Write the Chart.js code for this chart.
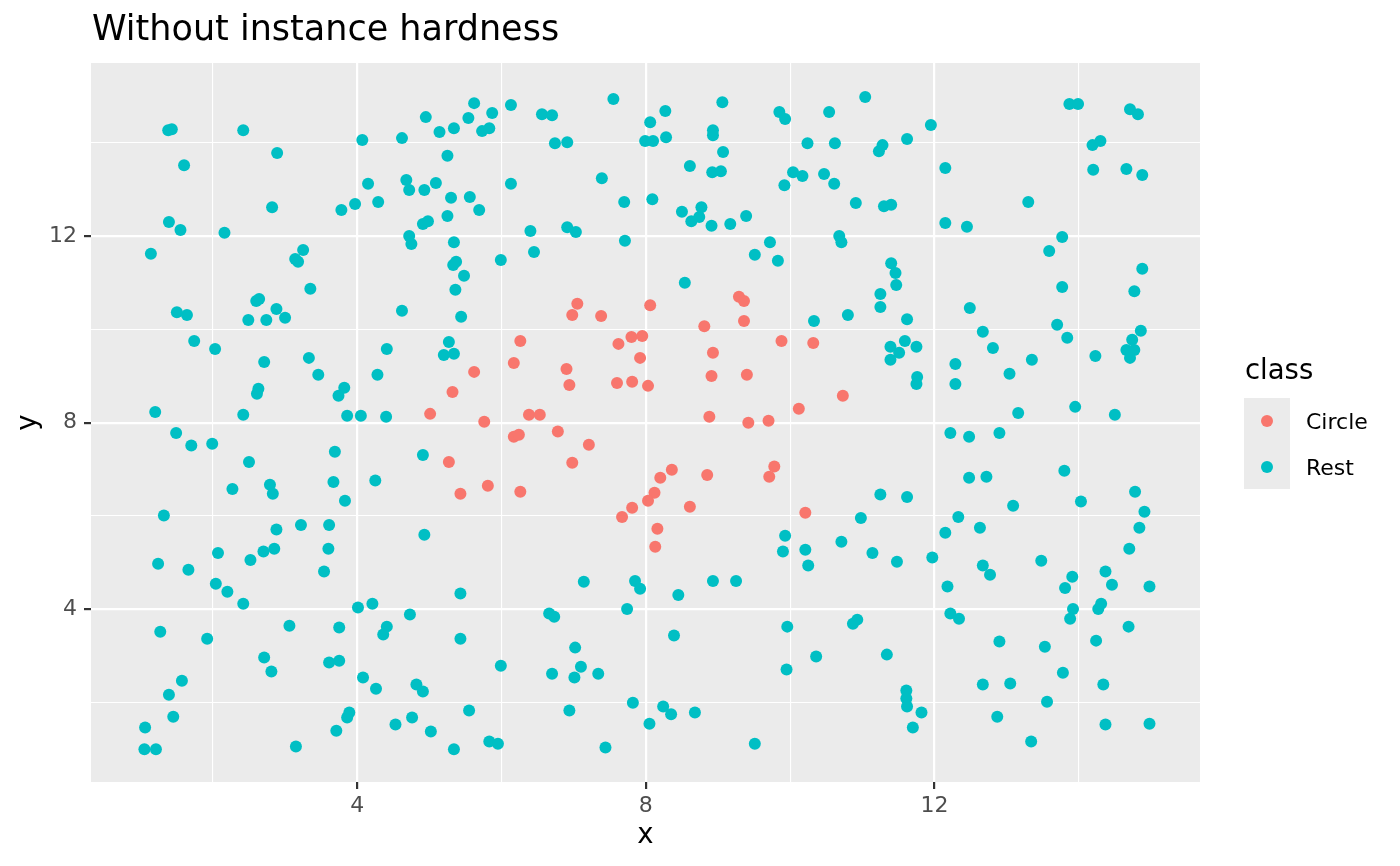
<!DOCTYPE html>
<html>
<head>
<meta charset="utf-8">
<title>Without instance hardness</title>
<script src="https://cdn.jsdelivr.net/npm/chart.js@4.4.1/dist/chart.umd.min.js"></script>
<style>
  html, body { margin: 0; padding: 0; background: #ffffff; }
  #wrap { width: 1400px; height: 866px; position: relative; }
</style>
</head>
<body>
<div id="wrap"><canvas id="scatterChart"></canvas></div>
<script>
// classes and their ggplot default hues
const classes = ["Circle", "Rest"];
const classColors = ["#F8766D", "#00BFC4"];

// points inside the circle
const circleX = [5.32, 5.01, 7.05, 6.98, 7.38, 8.06, 9.29, 9.36, 9.36, 8.81,
  6.26, 7.62, 7.80, 7.95, 7.92, 6.17, 5.62, 6.90, 6.94, 7.60,
  7.81, 8.03, 8.93, 8.91, 9.40, 9.88, 10.32, 10.12, 5.76, 6.38,
  6.53, 8.88, 9.42, 9.70, 10.73, 5.27, 5.43, 6.17, 6.24, 6.78,
  7.21, 6.98, 5.81, 6.26, 8.36, 8.20, 8.12, 8.03, 7.81, 7.67,
  8.85, 8.61, 9.78, 9.71, 10.21, 8.16, 8.13];
const circleY = [8.66, 8.19, 10.55, 10.31, 10.29, 10.52, 10.70, 10.61, 10.18, 10.07,
  9.75, 9.69, 9.84, 9.86, 9.39, 9.28, 9.09, 9.15, 8.81, 8.85,
  8.88, 8.79, 9.50, 9.00, 9.03, 9.75, 9.71, 8.30, 8.02, 8.17,
  8.17, 8.13, 8.00, 8.04, 8.58, 7.16, 6.48, 7.70, 7.74, 7.81,
  7.53, 7.14, 6.65, 6.52, 6.99, 6.82, 6.50, 6.33, 6.18, 5.98,
  6.88, 6.20, 7.06, 6.84, 6.07, 5.73, 5.34];

// all the other points
const restX = [
  1.38, 1.43, 2.42, 1.60, 2.89, 4.07, 4.62, 4.95, 5.14, 5.34,
  5.25, 4.15, 4.68, 4.72, 4.93, 5.09, 5.30, 2.82, 3.78, 3.97,
  4.29, 1.39, 1.55, 2.16, 4.91, 4.98, 5.25, 4.72, 4.75, 5.34,
  1.14, 3.25, 3.14, 3.18, 5.33, 5.37, 5.48, 3.35, 5.36, 2.60,
  2.64, 2.88, 1.50, 1.64, 2.49, 2.74, 3.00, 4.62, 5.44, 1.74,
  2.03, 2.71, 3.33, 3.46, 4.41, 4.28, 5.27, 5.20, 5.34, 2.63,
  2.61, 3.82, 3.74, 1.20, 2.42, 3.86, 4.05, 4.40,
  5.62, 5.54, 5.73, 5.83, 5.87, 6.13, 6.56, 6.70, 7.55, 6.74,
  6.91, 8.06, 8.27, 7.99, 8.10, 8.28, 9.06, 8.93, 8.93, 9.85,
  9.93, 10.54, 9.07, 8.61, 8.92, 9.04, 10.24, 10.62, 10.04, 10.17,
  10.47, 10.61, 9.92, 6.13, 7.39, 5.56, 5.69, 7.70, 8.09, 8.50,
  8.63, 8.74, 8.77, 8.91, 9.17, 9.39, 6.40, 6.91, 7.03, 7.71,
  6.45, 5.99, 9.72, 9.51, 9.83, 8.54, 10.33,
  11.04, 11.23, 11.28, 11.62, 11.95, 13.87, 13.99, 14.71, 14.82, 14.19,
  14.30, 12.15, 14.20, 14.66, 14.88, 10.91, 11.30, 11.40, 12.15, 12.45,
  13.30, 10.68, 10.71, 13.77, 13.59, 11.40, 11.46, 11.47, 14.88, 13.77,
  14.77, 11.25, 11.25, 10.80, 11.62, 12.49, 12.67, 12.81, 13.70, 13.84,
  14.86, 14.74, 14.66, 14.77, 14.71, 14.23, 11.39, 11.51, 11.59, 11.75,
  11.39, 12.29, 13.04, 13.35, 11.76, 11.75, 12.29, 13.16, 13.95, 14.50,
  1.49, 1.70, 1.99, 2.50, 2.27, 2.79, 2.83, 3.69, 3.67, 3.83,
  4.25, 4.91, 1.32, 2.88, 3.22, 3.61, 4.93, 1.24, 1.66, 2.07,
  2.52, 2.70, 2.85, 3.60, 3.54, 2.04, 2.20, 2.42, 4.01, 4.21,
  4.73, 5.43, 1.27, 1.92, 3.06, 3.75, 4.41, 4.36, 5.43, 2.71,
  2.81, 3.61, 3.75, 4.08, 4.26, 4.82, 4.91, 1.57, 1.39, 1.45,
  1.06, 1.05, 1.21, 3.15, 3.71, 3.89, 3.86, 4.53, 4.76, 5.02,
  5.34,
  9.93, 9.90, 10.21, 10.25, 7.14, 7.85, 7.92, 8.45, 8.93, 9.25,
  7.74, 6.66, 6.73, 8.39, 9.96, 10.36, 9.95, 7.02, 5.99, 7.10,
  6.70, 7.01, 7.34, 5.55, 6.94, 7.82, 8.24, 8.35, 8.68, 8.05,
  5.83, 5.95, 7.44, 9.51,
  12.22, 12.48, 12.90, 13.80, 12.48, 12.72, 11.25, 11.62, 13.09, 14.03,
  14.78, 14.91, 14.84, 14.70, 10.98, 12.33, 12.15, 12.63, 10.71, 11.14,
  11.48, 11.97, 13.48, 12.67, 12.77, 13.91, 13.81, 14.37, 14.46, 14.98,
  12.18, 10.93, 10.87, 12.22, 12.34, 13.92, 13.88, 14.31, 14.27, 14.69,
  12.90, 13.53, 14.24, 11.34, 13.78, 12.67, 13.05, 14.34, 11.61, 11.61,
  11.62, 11.82, 11.70, 13.56, 12.87, 14.37, 14.98, 13.34];
const restY = [
  14.27, 14.29, 14.27, 13.52, 13.78, 14.06, 14.10, 14.55, 14.23, 14.31,
  13.72, 13.12, 13.20, 12.99, 12.99, 13.14, 12.82, 12.62, 12.56, 12.69,
  12.73, 12.30, 12.13, 12.07, 12.26, 12.32, 12.43, 12.00, 11.83, 11.87,
  11.62, 11.70, 11.51, 11.45, 11.38, 11.45, 11.15, 10.87, 10.85, 10.61,
  10.65, 10.44, 10.37, 10.31, 10.20, 10.20, 10.25, 10.40, 10.27, 9.75,
  9.58, 9.30, 9.39, 9.03, 9.58, 9.03, 9.73, 9.45, 9.48, 8.73,
  8.62, 8.75, 8.58, 8.23, 8.17, 8.15, 8.15, 8.13,
  14.85, 14.53, 14.25, 14.31, 14.64, 14.81, 14.61, 14.59, 14.94, 13.99,
  14.01, 14.44, 14.68, 14.04, 14.04, 14.12, 14.87, 14.27, 14.16, 14.66,
  14.51, 14.66, 13.80, 13.50, 13.37, 13.39, 13.99, 13.99, 13.37, 13.29,
  13.33, 13.12, 13.09, 13.12, 13.24, 12.84, 12.56, 12.73, 12.79, 12.52,
  12.32, 12.41, 12.62, 12.22, 12.26, 12.43, 12.11, 12.19, 12.09, 11.90,
  11.66, 11.49, 11.87, 11.60, 11.47, 11.00, 10.18,
  14.98, 13.82, 13.95, 14.08, 14.38, 14.83, 14.83, 14.72, 14.61, 13.95,
  14.04, 13.46, 13.42, 13.44, 13.31, 12.71, 12.64, 12.67, 12.28, 12.20,
  12.73, 12.00, 11.87, 11.98, 11.68, 11.42, 11.21, 10.95, 11.30, 10.91,
  10.82, 10.76, 10.48, 10.31, 10.22, 10.46, 9.95, 9.60, 10.10, 9.82,
  9.97, 9.78, 9.56, 9.56, 9.39, 9.43, 9.63, 9.50, 9.75, 9.63,
  9.35, 9.26, 9.05, 9.35, 8.98, 8.83, 8.83, 8.21, 8.34, 8.17,
  7.78, 7.51, 7.55, 7.16, 6.58, 6.67, 6.48, 7.38, 6.73, 6.33,
  6.76, 7.31, 6.01, 5.71, 5.81, 5.81, 5.60, 4.98, 4.85, 5.21,
  5.06, 5.24, 5.30, 5.30, 4.81, 4.55, 4.38, 4.12, 4.04, 4.12,
  3.89, 4.34, 3.52, 3.37, 3.65, 3.61, 3.63, 3.46, 3.37, 2.97,
  2.67, 2.86, 2.90, 2.54, 2.30, 2.39, 2.24, 2.47, 2.17, 1.70,
  1.47, 1.00, 1.00, 1.06, 1.40, 1.79, 1.68, 1.53, 1.68, 1.38,
  1.00,
  5.58, 5.24, 5.28, 4.94, 4.59, 4.61, 4.44, 4.31, 4.61, 4.61,
  4.01, 3.91, 3.84, 3.44, 3.63, 2.99, 2.71, 3.18, 2.79, 2.77,
  2.62, 2.54, 2.62, 1.83, 1.83, 2.00, 1.92, 1.75, 1.79, 1.55,
  1.17, 1.12, 1.04, 1.12,
  7.78, 7.70, 7.78, 6.97, 6.82, 6.84, 6.46, 6.41, 6.22, 6.31,
  6.52, 6.09, 5.75, 5.30, 5.96, 5.98, 5.64, 5.75, 5.45, 5.21,
  5.02, 5.11, 5.04, 4.94, 4.74, 4.70, 4.46, 4.81, 4.53, 4.49,
  4.49, 3.78, 3.69, 3.91, 3.80, 4.01, 3.80, 4.12, 4.01, 3.63,
  3.31, 3.20, 3.33, 3.03, 2.64, 2.39, 2.41, 2.39, 2.26, 2.09,
  1.92, 1.79, 1.47, 2.02, 1.70, 1.53, 1.55, 1.17];

// axis ticks: labelled ones and the minor grid in between
const majorTicks = [4, 8, 12];
const minorTicks = [2, 6, 10, 14];
const xRange = [0.31, 15.68];
const yRange = [0.30, 15.71];

Chart.defaults.font.family = '"DejaVu Sans", sans-serif';

function toPoints(xs, ys) {
  return xs.map((x, i) => ({ x: x, y: ys[i] }));
}

function isMajor(ctx) {
  return ctx.tick && majorTicks.includes(ctx.tick.value);
}

function axisOptions(range, pad, fitFn) {
  return {
    type: "linear",
    min: range[0],
    max: range[1],
    afterBuildTicks: (scale) => {
      scale.ticks = majorTicks.concat(minorTicks).sort((a, b) => a - b).map(v => ({ value: v }));
    },
    afterFit: fitFn,
    ticks: {
      autoSkip: false,
      maxRotation: 0,
      padding: pad,
      color: "#4D4D4D",
      font: { size: 22 },
      callback: (v) => majorTicks.includes(v) ? String(v) : ""
    },
    grid: {
      color: "#FFFFFF",
      lineWidth: (ctx) => isMajor(ctx) ? 2.2 : 1.1,
      tickColor: (ctx) => isMajor(ctx) ? "#333333" : "rgba(0,0,0,0)",
      tickLength: 7,
      tickWidth: 2.2
    },
    border: { display: false }
  };
}

// panel background, title, axis titles and legend the ggplot way
const ggDecor = {
  id: "ggDecor",
  beforeDraw(chart) {
    const c = chart.ctx;
    const a = chart.chartArea;
    c.save();
    c.fillStyle = "#FFFFFF";
    c.fillRect(0, 0, chart.width, chart.height);
    c.fillStyle = "#EBEBEB";
    c.fillRect(a.left, a.top, a.right - a.left, a.bottom - a.top);
    c.restore();
  },
  afterDraw(chart) {
    const c = chart.ctx;
    const a = chart.chartArea;
    c.save();
    c.fillStyle = "#000000";
    c.textBaseline = "alphabetic";

    c.font = '35px "DejaVu Sans"';
    c.textAlign = "left";
    c.fillText("Without instance hardness", 92, 40);

    c.font = '27.5px "DejaVu Sans"';
    c.textAlign = "center";
    c.fillText("x", (a.left + a.right) / 2, 843);
    c.save();
    c.translate(36, (a.top + a.bottom) / 2);
    c.rotate(-Math.PI / 2);
    c.fillText("y", 0, 0);
    c.restore();

    // legend
    c.textAlign = "left";
    c.fillText("class", 1245, 379);
    c.fillStyle = "#EBEBEB";
    c.fillRect(1244, 398, 46, 91);
    const keyY = [421, 467];
    classes.forEach((name, i) => {
      c.fillStyle = classColors[i];
      c.beginPath();
      c.arc(1267, keyY[i], 6, 0, Math.PI * 2);
      c.fill();
      c.fillStyle = "#000000";
      c.font = '22px "DejaVu Sans"';
      c.fillText(name, 1306, keyY[i] + 8);
    });
    c.restore();
  }
};

const scatter = document.getElementById("scatterChart");
const scatterChart = new Chart(scatter, {
  type: "scatter",
  data: {
    datasets: [
      {
        label: classes[0],
        data: toPoints(circleX, circleY),
        backgroundColor: classColors[0],
        borderWidth: 0,
        pointRadius: 6,
        pointHoverRadius: 6
      },
      {
        label: classes[1],
        data: toPoints(restX, restY),
        backgroundColor: classColors[1],
        borderWidth: 0,
        pointRadius: 6,
        pointHoverRadius: 6
      }
    ]
  },
  options: {
    responsive: true,
    maintainAspectRatio: false,
    animation: false,
    layout: { padding: { left: 0, top: 63, right: 200, bottom: 0 } },
    scales: {
      x: axisOptions(xRange, 4, (s) => { s.height = 84; }),
      y: axisOptions(yRange, 7, (s) => { s.width = 91; })
    },
    plugins: {
      legend: { display: false },
      title: { display: false },
      tooltip: { enabled: false }
    }
  },
  plugins: [ggDecor]
});
</script>
</body>
</html>
